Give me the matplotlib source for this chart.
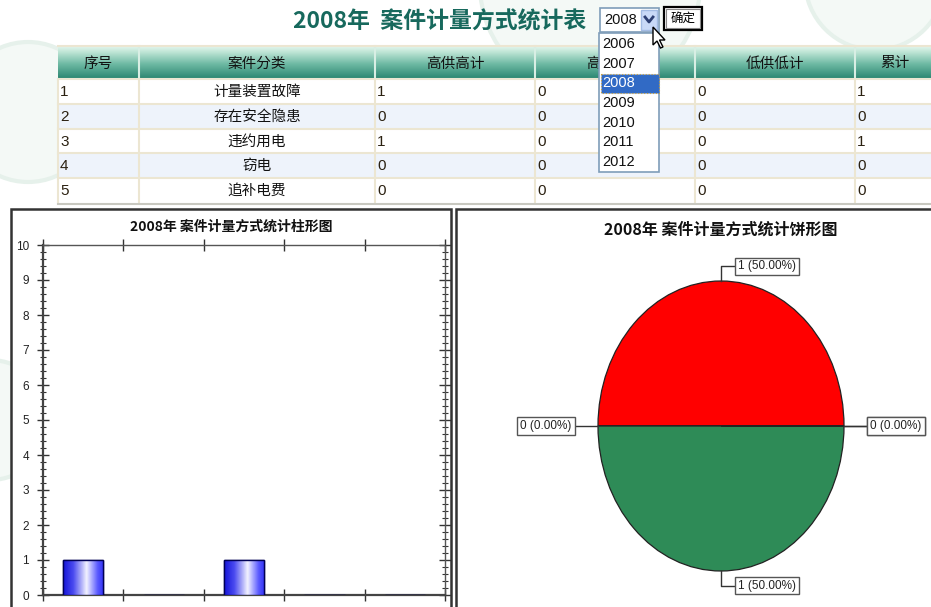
import numpy as np
import matplotlib
matplotlib.use("Agg")
import matplotlib.pyplot as plt
from matplotlib.patches import Rectangle, Circle, Polygon
from matplotlib.colors import LinearSegmentedColormap

plt.rcParams['font.family'] = ['Noto Sans CJK SC', 'DejaVu Sans']

# ---------------- data ----------------
selected_year = '2008'
years = ['2006', '2007', '2008', '2009', '2010', '2011', '2012']
columns = ['序号', '案件分类', '高供高计', '高供低计', '低供低计', '累计']
row_ids = ['1', '2', '3', '4', '5']
categories = ['计量装置故障', '存在安全隐患', '违约用电', '窃电', '追补电费']
gao_gao = [1, 0, 1, 0, 0]
gao_di = [0, 0, 0, 0, 0]
di_di = [0, 0, 0, 0, 0]
totals = [1, 0, 1, 0, 0]
pie_colors = ['#ff0000', '#ffcc00', '#2e8b57', '#4169e1', '#9932cc']

W, H = 931, 607
fig = plt.figure(figsize=(W / 100, H / 100), dpi=100)
fig.patch.set_facecolor('white')

bg = fig.add_axes([0, 0, 1, 1])
bg.set_xlim(0, W)
bg.set_ylim(H, 0)
bg.axis('off')
bg.set_zorder(0)

# faint watermark logos
for (cx, cy, r) in [(28, 112, 70), (590, -15, 110), (875, -20, 70), (-10, 420, 60)]:
    bg.add_patch(Circle((cx, cy), r, fc='#f4f9f6', ec='#e6f1eb', lw=3, zorder=0))

# ---------------- title ----------------
bg.text(440, 22, f'{selected_year}年  案件计量方式统计表', ha='center', va='center',
        fontsize=16.5, fontweight='bold', color='#17695d', zorder=5)

# ---------------- table ----------------
col_edges = [58, 139, 375, 535, 695, 855, 935]
hdr_top, hdr_bot = 46, 79
row_h = 24.8

stops = [(0.0, '#e4f6ee'), (0.15, '#c4e8d9'), (0.55, '#6db9a3'), (1.0, '#2a8570')]
cm = LinearSegmentedColormap.from_list('hdr', stops)
grad = cm(np.linspace(0, 1, 64))[:, None, :3]
bg.imshow(grad, extent=(col_edges[0], W, hdr_bot, hdr_top), origin='upper',
          aspect='auto', zorder=2)
bg.set_xlim(0, W)
bg.set_ylim(H, 0)
for i, c in enumerate(columns):
    cx = (col_edges[i] + col_edges[i + 1]) / 2
    t = bg.text(cx, (hdr_top + hdr_bot) / 2 + 1, c, ha='center', va='center',
                fontsize=10.5, color='#111111', zorder=3)
    if i == 3:
        # partly hidden behind the open dropdown list, as in the screenshot
        clip = Rectangle((col_edges[i], hdr_top), 599 - col_edges[i], hdr_bot - hdr_top,
                         transform=bg.transData, fc='none', ec='none')
        t.set_clip_path(clip)
for x in col_edges[1:-1]:
    bg.plot([x, x], [hdr_top, hdr_bot], color='#d8eee4', lw=1.5, zorder=3)

table_cols = [row_ids, categories, gao_gao, gao_di, di_di, totals]
for r in range(len(categories)):
    y0 = hdr_bot + r * row_h
    fc = 'white' if r % 2 == 0 else '#eef3fb'
    bg.add_patch(Rectangle((col_edges[0], y0), W - col_edges[0], row_h,
                           fc=fc, ec='none', zorder=2))
    yc = y0 + row_h / 2 + 0.5
    for ci, col in enumerate(table_cols):
        val = str(col[r])
        if ci == 1:
            bg.text((col_edges[1] + col_edges[2]) / 2, yc, val, ha='center', va='center',
                    fontsize=10.5, color='#111111', zorder=3)
        else:
            bg.text(col_edges[ci] + 2, yc, val, ha='left', va='center',
                    fontsize=11, color='#2a2010', family=['Liberation Sans'], zorder=3)
    bg.plot([col_edges[0], W], [y0, y0], color='#ece6d2', lw=1.5, zorder=3)
tbl_bottom = hdr_bot + len(categories) * row_h
for x in col_edges[:-1]:
    bg.plot([x, x], [hdr_bot, tbl_bottom], color='#ece6d2', lw=1.5, zorder=3)
bg.plot([col_edges[0], W], [tbl_bottom + 0.5, tbl_bottom + 0.5], color='#c8c8c0', lw=1.5, zorder=3)
bg.plot([col_edges[0], W], [hdr_top, hdr_top], color='#ece6d2', lw=1.5, zorder=3)

# ---------------- dropdown ----------------
bg.add_patch(Rectangle((600, 8), 59, 24, fc='white', ec='#7f9db9', lw=1.2, zorder=6))
bg.text(604, 20.5, selected_year, ha='left', va='center', fontsize=10.5,
        family=['Liberation Sans'], color='#111111', zorder=7)
bg.add_patch(Rectangle((641, 10), 16, 20, fc='#c9d9f7', ec='#a3bbe3', lw=1, zorder=7))
bg.plot([645, 649, 653], [17, 22, 17], color='#2d3f73', lw=2, zorder=8)
bg.add_patch(Rectangle((664, 7), 38, 23, fc='white', ec='black', lw=1.6, zorder=6))
bg.add_patch(Rectangle((666, 9), 34, 19, fc='none', ec='#888888', lw=0.8, zorder=6))
bg.text(683, 18, '确定', ha='center', va='center', fontsize=9, color='black', zorder=7)

bg.add_patch(Rectangle((599, 33), 60, 139, fc='white', ec='#7f9db9', lw=1.2, zorder=6))
item_h = 19.7
for i, yr in enumerate(years):
    yc = 44 + i * item_h
    col = '#111111'
    if yr == selected_year:
        bg.add_patch(Rectangle((600.5, yc - 9.5), 58, 19, fc='#316ac5', ec='#c8a040',
                               lw=0.8, ls=':', zorder=7))
        col = 'white'
    bg.text(602, yc, yr, ha='left', va='center', fontsize=10.5,
            family=['Liberation Sans'], color=col, zorder=8)

# mouse cursor
tip = np.array([653, 27])
shape = np.array([[0, 0], [0, 18], [4, 14], [7.5, 21], [10, 20], [6.5, 13], [12, 13]])
bg.add_patch(Polygon(tip + shape, closed=True, fc='white', ec='black', lw=1, zorder=10))

# ---------------- panels ----------------
bg.add_patch(Rectangle((11, 209), 440, 400, fc='white', ec='#333333', lw=1.8, zorder=2))
bg.add_patch(Rectangle((456, 209), 480, 400, fc='white', ec='#333333', lw=1.8, zorder=2))
bg.text(231, 227, f'{selected_year}年 案件计量方式统计柱形图', ha='center', va='center',
        fontsize=10, fontweight='bold', color='#111111', zorder=3)
bg.text(721, 230, f'{selected_year}年 案件计量方式统计饼形图', ha='center', va='center',
        fontsize=11.5, fontweight='bold', color='#111111', zorder=3)

# ---------------- bar chart ----------------
def fx(px):
    return px / W

def fy(py):
    return 1 - py / H

ax = fig.add_axes([fx(43), fy(595), (445 - 43) / W, (595 - 245) / H])
ax.set_zorder(3)
ax.set_facecolor('white')
xpos = np.arange(len(categories)) + 0.5
bars = ax.bar(xpos, totals, width=0.5, color='#2020ee', edgecolor='#000055', lw=1, zorder=3)
bar_cmap = LinearSegmentedColormap.from_list(
    'cyl', [(0, '#1414d8'), (0.25, '#4a4af0'), (0.58, '#f2f2ff'), (0.85, '#5a5aff'), (1, '#3030f5')])
gradient = np.linspace(0, 1, 128)[None, :]
for b in bars:
    if b.get_height() <= 0:
        continue
    x0, y0 = b.get_x(), b.get_y()
    im = ax.imshow(gradient, cmap=bar_cmap, aspect='auto', zorder=3.5,
                   extent=(x0, x0 + b.get_width(), y0, y0 + b.get_height()))
    im.set_clip_path(b)
    ax.add_patch(Rectangle((x0, y0), b.get_width(), b.get_height(), fc='none',
                           ec='#000055', lw=1, zorder=4))
ax.set_xlim(0, len(categories))
ax.set_ylim(0, 10)
ax.set_yticks(np.arange(0, 11, 1))
ax.set_yticks(np.arange(0, 10.01, 0.2), minor=True)
ax.set_xticks(np.arange(0, len(categories) + 1, 1))
ax.set_xticklabels([])
ax.tick_params(axis='y', which='major', direction='inout', length=8, width=1,
               color='#333333', left=True, right=True, labelsize=8.5,
               labelcolor='#222222', pad=6)
ax.tick_params(axis='y', which='minor', direction='inout', length=4, width=0.8,
               color='#333333', left=True, right=True)
ax.tick_params(axis='x', which='major', direction='inout', length=8, width=1,
               color='#333333', top=True, bottom=True)
for lbl in ax.get_yticklabels():
    lbl.set_family(['Liberation Sans'])
for s in ['left', 'bottom']:
    ax.spines[s].set_color('#444444')
    ax.spines[s].set_linewidth(1.6)
for s in ['top', 'right']:
    ax.spines[s].set_color('#555555')
    ax.spines[s].set_linewidth(1.0)

# ---------------- pie chart ----------------
cx_px, cy_px, rx_px, ry_px = 721, 426, 123, 145
left_px, right_px, top_px, bot_px = 458, 930, 240, 605
ax2 = fig.add_axes([fx(left_px), fy(bot_px), (right_px - left_px) / W, (bot_px - top_px) / H])
ax2.set_zorder(3)
ax2.patch.set_alpha(0)
wedges, _ = ax2.pie(totals, colors=pie_colors, startangle=0, counterclock=True,
                    wedgeprops=dict(edgecolor='#222222', linewidth=0.9))
ax2.set_aspect('auto')
ax2.set_xlim((left_px - cx_px) / rx_px, (right_px - cx_px) / rx_px)
ax2.set_ylim((cy_px - bot_px) / ry_px, (cy_px - top_px) / ry_px)
ax2.axis('off')

total_sum = sum(totals)
for w, v in zip(wedges, totals):
    ang = np.deg2rad((w.theta1 + w.theta2) / 2)
    c, s = np.cos(ang), np.sin(ang)
    p0 = np.array([c, s])
    label = f'{v} ({v / total_sum * 100:.2f}%)'
    if abs(s) > 0.7:
        p1 = p0 * 1.10
        p2 = p1 + np.array([0.11, 0])
        ax2.plot([p0[0], p1[0], p2[0]], [p0[1], p1[1], p2[1]], color='#333333', lw=1, clip_on=False)
        ha = 'left'
        tx = p2[0] + 0.025
    else:
        p2 = p0 * 1.19
        ax2.plot([p0[0], p2[0]], [p0[1], p2[1]], color='#333333', lw=1, clip_on=False)
        ha = 'left' if c > 0 else 'right'
        tx = p2[0] + (0.025 if c > 0 else -0.025)
    ax2.text(tx, p2[1], label, ha=ha, va='center', fontsize=8.5,
             family=['Liberation Sans'], color='#222222', clip_on=False,
             bbox=dict(boxstyle='square,pad=0.25', fc='white', ec='#555555', lw=1))

fig.savefig('out.png', dpi=100)
